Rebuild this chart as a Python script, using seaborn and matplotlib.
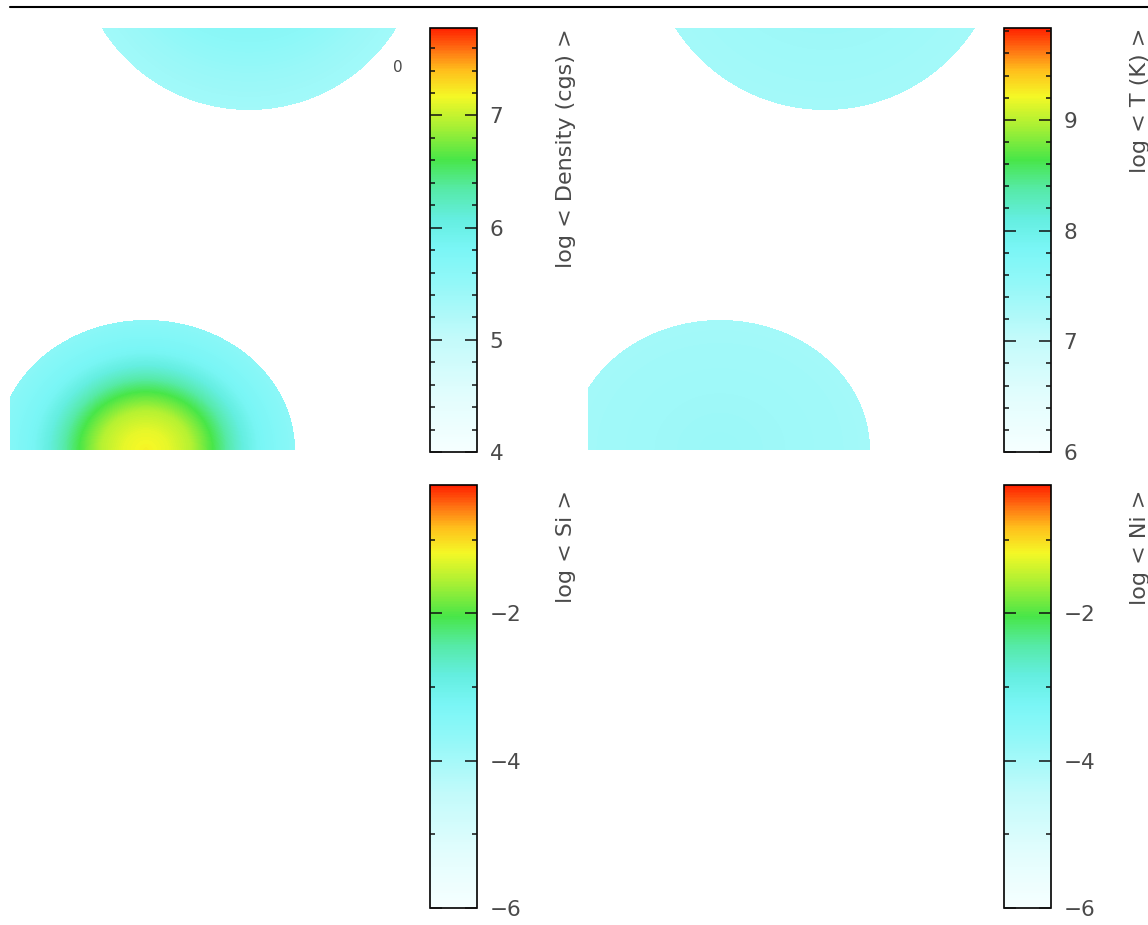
import numpy as np
import matplotlib
matplotlib.use("Agg")
import matplotlib.pyplot as plt
import seaborn as sns
from matplotlib.colors import LinearSegmentedColormap
from matplotlib.ticker import FixedLocator
from matplotlib.lines import Line2D

# ---------------- data ----------------
field_width = 395      # field extent (x = cylindrical radius), arbitrary units
field_height = 422     # field extent (z), arbitrary units, measured from top

# log density: blob geometry (cx, cy, rx, ry) and radial profiles
dens_blob_lower = (136, 422, 149, 130)
dens_blob_upper = (239, -90, 173, 172)
dens_prof_r_lower = [0.0, 0.15, 0.3, 0.45, 0.6, 0.75, 0.9, 1.0]
dens_prof_v_lower = [7.2, 7.12, 6.95, 6.6, 6.2, 5.85, 5.7, 5.6]
dens_prof_r_upper = [0.35, 0.6, 0.8, 1.0]
dens_prof_v_upper = [5.75, 5.6, 5.45, 5.35]

# log temperature
temp_blob_lower = (132, 422, 150, 130)
temp_blob_upper = (237, -96, 178, 178)
temp_prof_r_lower = [0.0, 0.5, 0.8, 1.0]
temp_prof_v_lower = [7.45, 7.4, 7.38, 7.35]
temp_prof_r_upper = [0.4, 0.7, 1.0]
temp_prof_v_upper = [7.45, 7.4, 7.35]

# colour-bar ranges and ticks
dens_range = (4.0, 7.78)
dens_major = [4, 5, 6, 7]
dens_minor = [4.2, 4.4, 4.6, 4.8, 5.2, 5.4, 5.6, 5.8, 6.2, 6.4, 6.6, 6.8, 7.2, 7.4, 7.6]
temp_range = (6.0, 9.83)
temp_major = [6, 7, 8, 9]
temp_minor = [6.2, 6.4, 6.6, 6.8, 7.2, 7.4, 7.6, 7.8, 8.2, 8.4, 8.6, 8.8, 9.2, 9.4, 9.6, 9.8]
abund_range = (-6.0, -0.26)
abund_major = [-6, -4, -2]
abund_minor = [-5, -3, -1]

labels = ["log < Density (cgs) >", "log < T (K) >", "log < Si >", "log < Ni >"]
time_label = "0"

# ---------------- build fields ----------------
xs = np.arange(0, field_width, 1) + 0.5
ys = np.arange(0, field_height, 1) + 0.5
X, Y = np.meshgrid(xs, ys)


def add_blob(field, geom, r_pts, v_pts):
    cx, cy, rx, ry = geom
    r = np.hypot((X - cx) / rx, (Y - cy) / ry)
    inside = r <= 1.0
    field[inside] = np.interp(r[inside], r_pts, v_pts)


dens = np.full(X.shape, np.nan)
add_blob(dens, dens_blob_lower, dens_prof_r_lower, dens_prof_v_lower)
add_blob(dens, dens_blob_upper, dens_prof_r_upper, dens_prof_v_upper)

temp = np.full(X.shape, np.nan)
add_blob(temp, temp_blob_lower, temp_prof_r_lower, temp_prof_v_lower)
add_blob(temp, temp_blob_upper, temp_prof_r_upper, temp_prof_v_upper)

si = np.full(X.shape, np.nan)
ni = np.full(X.shape, np.nan)

# ---------------- colour map ----------------
cmap = LinearSegmentedColormap.from_list("idl_like", [
    (0.00, "#f6ffff"),
    (0.13, "#e2fdfd"),
    (0.27, "#c2fafa"),
    (0.40, "#92f8f8"),
    (0.48, "#7af6f6"),
    (0.55, "#64eee0"),
    (0.62, "#56eaa8"),
    (0.69, "#48e648"),
    (0.77, "#aaf034"),
    (0.84, "#f4f826"),
    (0.90, "#ffc01c"),
    (0.95, "#ff7212"),
    (1.00, "#ff2200"),
])

# ---------------- figure ----------------
sns.set_style("white")
plt.rcParams["font.family"] = ["DejaVu Sans"]
W, H = 1148, 925
fig = plt.figure(figsize=(W / 100, H / 100), dpi=100)
fig.patch.set_facecolor("white")


def fbox(x0, y0, x1, y1):
    return [x0 / W, 1 - y1 / H, (x1 - x0) / W, (y1 - y0) / H]


panels = [
    (dens, dens_range, dens_major, dens_minor, fbox(10, 28, 405, 450), fbox(430, 28, 477, 452), (566, 28)),
    (temp, temp_range, temp_major, temp_minor, fbox(588, 28, 983, 450), fbox(1004, 28, 1051, 452), (1140, 28)),
    (si, abund_range, abund_major, abund_minor, fbox(10, 485, 405, 908), fbox(430, 485, 477, 908), (566, 490)),
    (ni, abund_range, abund_major, abund_minor, fbox(588, 485, 983, 908), fbox(1004, 485, 1051, 908), (1140, 490)),
]

text_col = "#4a4a4a"
for (data, (vmin, vmax), major, minor, fpos, cpos, lpos), label in zip(panels, labels):
    ax = fig.add_axes(fpos)
    cax = fig.add_axes(cpos)
    sns.heatmap(data, ax=ax, cmap=cmap, vmin=vmin, vmax=vmax, mask=np.isnan(data),
                cbar_ax=cax, xticklabels=False, yticklabels=False)
    ax.set_axis_off()
    cb = ax.collections[0].colorbar
    cb.outline.set_linewidth(1.2)
    cb.outline.set_edgecolor("black")
    cb.set_ticks(major)
    cax.set_axisbelow(False)
    cax.yaxis.set_zorder(5)
    cax.yaxis.set_minor_locator(FixedLocator(minor))
    cax.tick_params(which="both", direction="in", left=True, right=True,
                    labelleft=False, labelright=True, color="#111111", width=1.1,
                    labelcolor=text_col, labelsize=15.5, pad=9)
    cax.tick_params(which="major", length=8.5)
    cax.tick_params(which="minor", length=3.5)
    fig.text(lpos[0] / W, 1 - lpos[1] / H, label, rotation=90, ha="center", va="top",
             fontsize=16, color=text_col)

fig.text(398 / W, 1 - 67 / H, time_label, ha="center", va="center", fontsize=11, color=text_col)
fig.add_artist(Line2D([10 / W, 1.0], [1 - 7 / H, 1 - 7 / H], color="black", lw=1.5,
                      transform=fig.transFigure))

fig.savefig("out.png", dpi=100, facecolor="white")
